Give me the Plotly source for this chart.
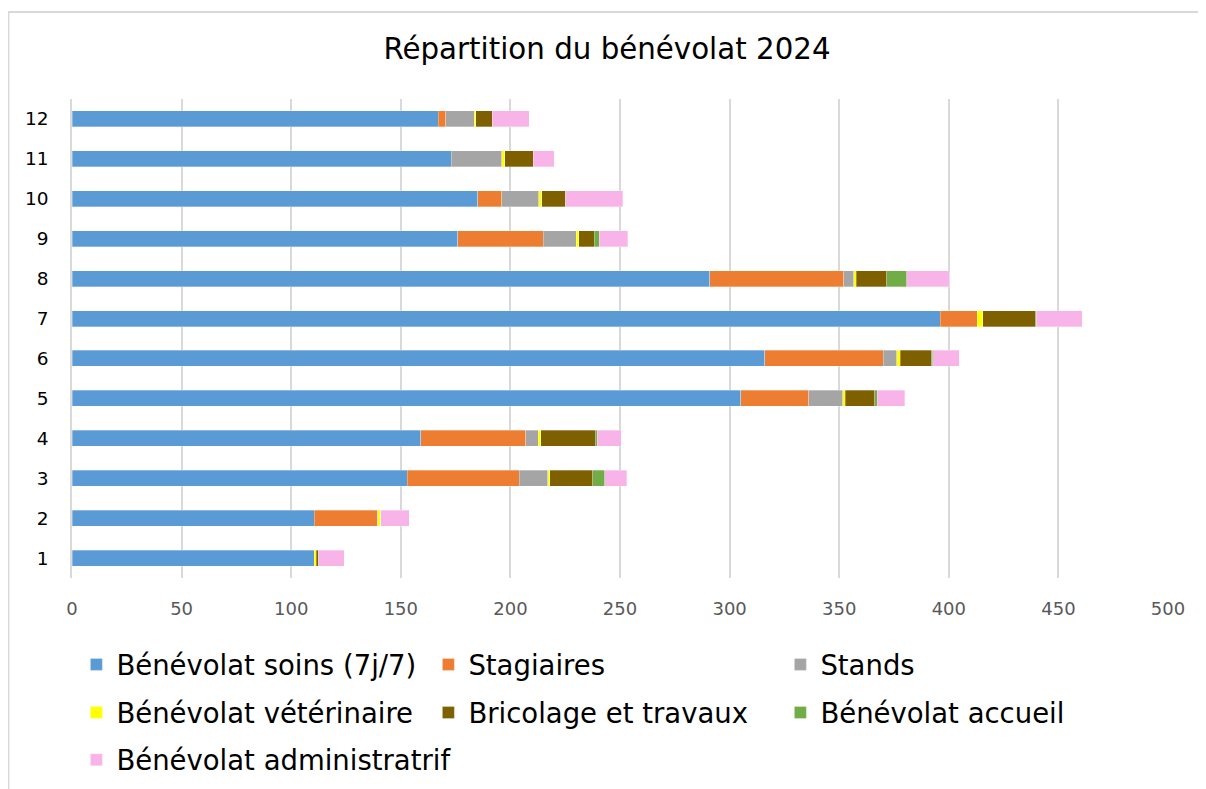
import plotly.graph_objects as go

# mois 1 à 12 (axe vertical)
mois = ['1', '2', '3', '4', '5', '6', '7', '8', '9', '10', '11', '12']

soins = [110.5, 110.5, 153, 159, 305, 316, 396, 291, 176, 185, 173, 167]
stagiaires = [0, 29, 51, 48, 31, 54, 17, 61, 39, 11, 0, 3.5]
stands = [0, 0, 13, 5.8, 15.6, 6.3, 0, 4.6, 15, 17, 23, 13]
veterinaire = [1, 1.3, 1, 1, 1.2, 1.6, 2.5, 1.2, 1.2, 1.2, 1.4, 0.7]
bricolage = [1, 0, 19.5, 25, 13.4, 14, 24, 14, 7, 11, 13, 7.5]
accueil = [0, 0, 5.5, 0.8, 1.2, 0.8, 0.3, 9, 2.3, 0, 0, 0]
administratif = [11.7, 13, 10, 11, 12.5, 12, 21, 19.5, 13, 26, 9.5, 17]

# (nom, valeurs, couleur, légende) - une légende par ligne pour l'espacement
series = [
    ('Bénévolat soins (7j/7)', soins, '#5B9BD5', 'legend'),
    ('Stagiaires', stagiaires, '#ED7D31', 'legend'),
    ('Stands', stands, '#A5A5A5', 'legend'),
    ('Bénévolat vétérinaire', veterinaire, '#FFFF00', 'legend2'),
    ('Bricolage et travaux', bricolage, '#7F6000', 'legend2'),
    ('Bénévolat accueil', accueil, '#70AD47', 'legend2'),
    ('Bénévolat administratrif', administratif, '#F8B3E8', 'legend3'),
]

fig = go.Figure()
for name, vals, color, leg in series:
    fig.add_trace(go.Bar(
        y=mois,
        x=vals,
        name=name,
        orientation='h',
        legend=leg,
        marker=dict(color=color, line=dict(color='rgba(255,255,255,0.6)', width=0.5)),
    ))

legend_style = dict(
    orientation='h',
    x=0.004, xanchor='left',
    yanchor='top',
    entrywidth=307, entrywidthmode='pixels',
    font=dict(size=27.5, color='black'),
    traceorder='normal',
    bgcolor='rgba(0,0,0,0)',
)

fig.update_layout(
    barmode='stack',
    bargap=0.6,
    width=1198,
    height=781,
    margin=dict(l=64, r=38, t=91, b=211, autoexpand=False),
    paper_bgcolor='white',
    plot_bgcolor='white',
    font=dict(family='DejaVu Sans', color='black'),
    title=dict(text='Répartition du bénévolat 2024', x=0.5, xanchor='center',
               y=0.948, yanchor='middle', font=dict(size=29.3, color='black')),
    legend=dict(legend_style, y=-0.1295),
    legend2=dict(legend_style, y=-0.23),
    legend3=dict(legend_style, y=-0.3285, entrywidth=500),
    shapes=[dict(type='rect', xref='paper', yref='paper',
                 x0=-0.058, x1=1.06, y0=-0.5, y1=1.1816,
                 line=dict(color='#D9D9D9', width=2), fillcolor='rgba(0,0,0,0)')],
)

fig.update_xaxes(
    range=[0, 500],
    dtick=50,
    showgrid=True,
    gridcolor='#D9D9D9',
    gridwidth=1.5,
    zeroline=False,
    showline=False,
    tickfont=dict(size=18, color='#595959'),
    ticklabelstandoff=18,
)
fig.update_yaxes(
    showgrid=False,
    showline=True,
    linecolor='#D9D9D9',
    linewidth=1.5,
    tickfont=dict(size=18.5, color='black'),
    ticklabelstandoff=18,
)

fig.write_html('out.html')
